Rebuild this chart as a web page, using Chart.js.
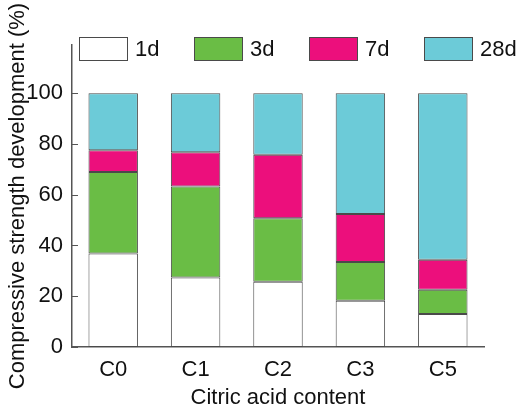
<!DOCTYPE html>
<html>
<head>
<meta charset="utf-8">
<script src="https://cdn.jsdelivr.net/npm/chart.js@4"></script>
<style>
  body { margin: 0; background: #fff; }
  #wrap { width: 517px; height: 409px; }
</style>
</head>
<body>
<div id="wrap"><canvas id="strengthChart" width="517" height="409"></canvas></div>
<script>
// data (stacked shares, %)
const categories = ["C0", "C1", "C2", "C3", "C5"];
const ages = ["1d", "3d", "7d", "28d"];
const share1d = [36.8, 27.4, 25.7, 18.2, 13.0];
const share3d = [32.2, 35.8, 25.0, 15.3, 9.6];
const share7d = [8.5, 13.5, 25.1, 18.9, 11.8];
const share28d = [22.5, 23.3, 24.2, 47.6, 65.6];
const yTicks = [0, 20, 40, 60, 80, 100];

const colors = ["#ffffff", "#6abd45", "#ec0f7c", "#6ccbd8"];
const edge = "#4a4a4a";
const allShares = [share1d, share3d, share7d, share28d];

const FONT = "'Liberation Sans', Arial, sans-serif";
const axisColor = "#555";

// legend drawn by hand so the boxes sit where the figure has them
const topLegend = {
  id: "topLegend",
  afterDraw(chart) {
    const ctx = chart.ctx;
    ctx.save();
    ctx.font = "22px " + FONT;
    ctx.textBaseline = "middle";
    ages.forEach(function (name, i) {
      let x = 79 + i * 115;
      ctx.fillStyle = colors[i];
      ctx.fillRect(x, 37, 49, 24);
      ctx.strokeStyle = edge;
      ctx.lineWidth = 1;
      ctx.strokeRect(x + 0.5, 37.5, 48, 23);
      ctx.fillStyle = "#111";
      ctx.fillText(name, x + 56, 50);
    });
    ctx.restore();
  }
};

// short ticks pointing into the plot
const innerTicks = {
  id: "innerTicks",
  afterDraw(chart) {
    const y = chart.scales.y;
    const ctx = chart.ctx;
    ctx.save();
    ctx.strokeStyle = axisColor;
    ctx.lineWidth = 1;
    yTicks.forEach(function (v) {
      let py = Math.round(y.getPixelForValue(v)) + 0.5;
      ctx.beginPath();
      ctx.moveTo(y.right, py);
      ctx.lineTo(y.right + 6, py);
      ctx.stroke();
    });
    ctx.restore();
  }
};

new Chart(document.getElementById("strengthChart"), {
  type: "bar",
  data: {
    labels: categories,
    datasets: allShares.map(function (d, i) {
      return {
        label: ages[i],
        data: d,
        backgroundColor: colors[i],
        borderColor: edge,
        borderWidth: 1,
        borderSkipped: false,
        barPercentage: 0.6,
        categoryPercentage: 1.0
      };
    })
  },
  options: {
    responsive: false,
    animation: false,
    layout: { padding: { top: 45, right: 33, bottom: 0, left: 0 } },
    plugins: { legend: { display: false }, tooltip: { enabled: false } },
    scales: {
      x: {
        stacked: true,
        grid: { display: false, drawTicks: false },
        border: { color: axisColor, width: 1.5 },
        ticks: { color: "#111", padding: 10, font: { family: FONT, size: 22 } },
        title: {
          display: true, text: "Citric acid content", color: "#111",
          font: { family: FONT, size: 22, lineHeight: 1 },
          padding: { top: 0, bottom: 0 }
        },
        afterFit(s) { s.height = 62; }
      },
      y: {
        stacked: true,
        min: 0,
        max: 119,
        grid: { display: false, drawTicks: false },
        border: { color: axisColor, width: 1.5 },
        ticks: { color: "#111", padding: 9, font: { family: FONT, size: 22 } },
        afterBuildTicks(s) { s.ticks = yTicks.map(function (v) { return { value: v }; }); },
        title: {
          display: true, text: "Compressive strength development (%)", color: "#111",
          font: { family: FONT, size: 22, lineHeight: 1 },
          padding: { top: 7, bottom: 0 }
        },
        afterFit(s) { s.width = 72; }
      }
    }
  },
  plugins: [topLegend, innerTicks]
});
</script>
</body>
</html>
